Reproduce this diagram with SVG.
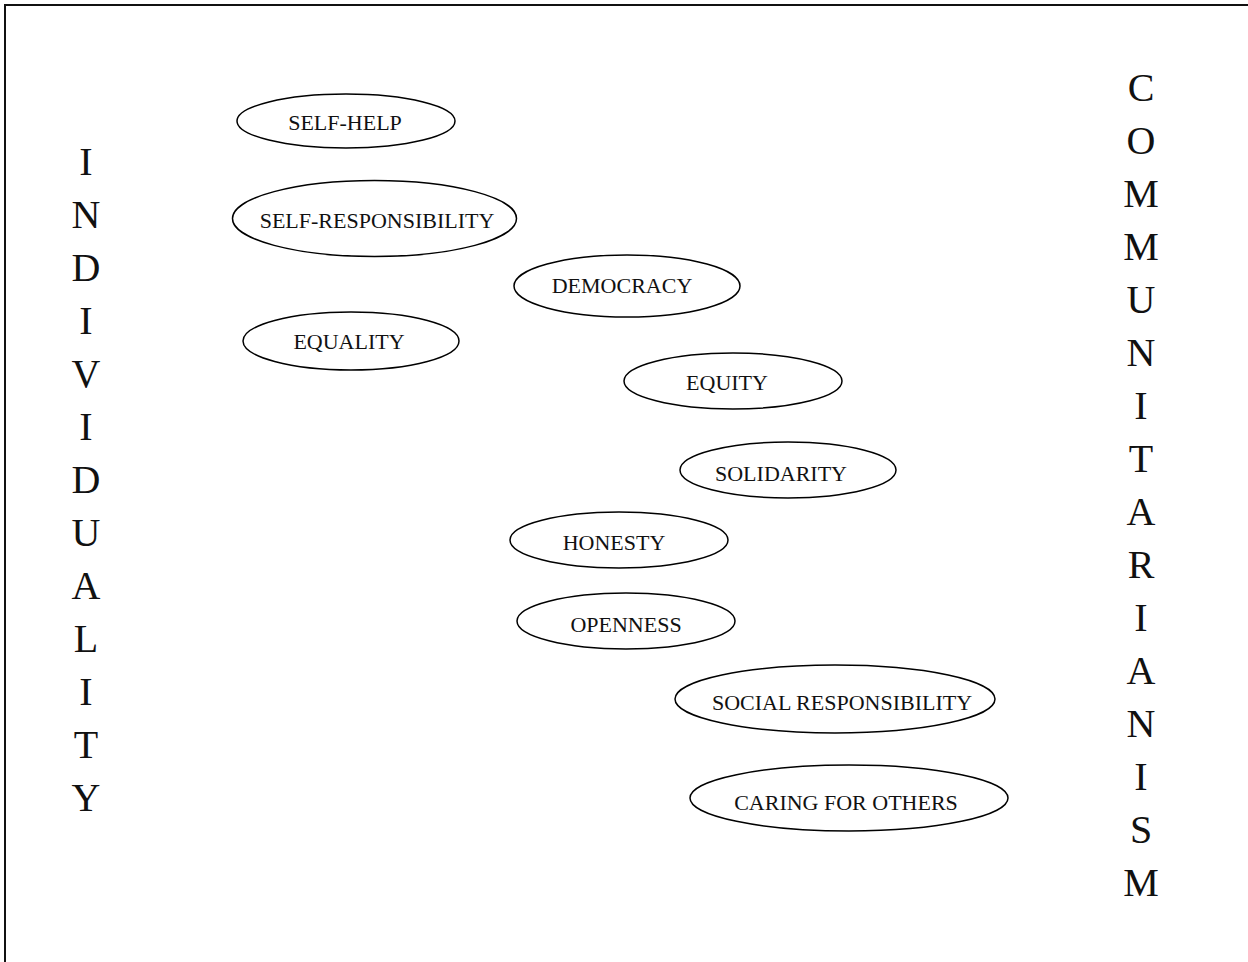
<svg xmlns="http://www.w3.org/2000/svg" width="1248" height="962" viewBox="0 0 1248 962">
<style>
.node ellipse{fill:none;stroke:#000;stroke-width:1.5}
.node text{font-family:"Liberation Serif","Times New Roman",serif;font-size:22px;text-anchor:middle;fill:#111}
.big{font-family:"Liberation Serif","Times New Roman",serif;font-size:40px;text-anchor:middle;fill:#111}
</style>
<rect x="0" y="0" width="1248" height="962" fill="#fff"/>
<rect x="5" y="5" width="1260" height="980" fill="none" stroke="#111" stroke-width="2"/>
<g id="connectors"></g>
<g id="individuality" class="big">
<text x="86" y="175">I</text>
<text x="86" y="228">N</text>
<text x="86" y="281">D</text>
<text x="86" y="334">I</text>
<text x="86" y="387">V</text>
<text x="86" y="440">I</text>
<text x="86" y="493">D</text>
<text x="86" y="546">U</text>
<text x="86" y="599">A</text>
<text x="86" y="652">L</text>
<text x="86" y="705">I</text>
<text x="86" y="758">T</text>
<text x="86" y="811">Y</text>
</g>
<g id="communitarianism" class="big">
<text x="1141" y="101">C</text>
<text x="1141" y="154">O</text>
<text x="1141" y="207">M</text>
<text x="1141" y="260">M</text>
<text x="1141" y="313">U</text>
<text x="1141" y="366">N</text>
<text x="1141" y="419">I</text>
<text x="1141" y="472">T</text>
<text x="1141" y="525">A</text>
<text x="1141" y="578">R</text>
<text x="1141" y="631">I</text>
<text x="1141" y="684">A</text>
<text x="1141" y="737">N</text>
<text x="1141" y="790">I</text>
<text x="1141" y="843">S</text>
<text x="1141" y="896">M</text>
</g>
<g id="self-help" class="node"><ellipse cx="346" cy="121" rx="109" ry="27"/><text x="345" y="130">SELF-HELP</text></g>
<g id="self-responsibility" class="node"><ellipse cx="374.5" cy="218.5" rx="142" ry="38"/><text x="377" y="228">SELF-RESPONSIBILITY</text></g>
<g id="democracy" class="node"><ellipse cx="627" cy="286" rx="113" ry="31"/><text x="622" y="293">DEMOCRACY</text></g>
<g id="equality" class="node"><ellipse cx="351" cy="341" rx="108" ry="29"/><text x="349" y="349">EQUALITY</text></g>
<g id="equity" class="node"><ellipse cx="733" cy="381" rx="109" ry="28"/><text x="727" y="390">EQUITY</text></g>
<g id="solidarity" class="node"><ellipse cx="788" cy="470" rx="108" ry="28"/><text x="781" y="481">SOLIDARITY</text></g>
<g id="honesty" class="node"><ellipse cx="619" cy="540" rx="109" ry="28"/><text x="614" y="550">HONESTY</text></g>
<g id="openness" class="node"><ellipse cx="626" cy="621" rx="109" ry="28"/><text x="626" y="632">OPENNESS</text></g>
<g id="social-responsibility" class="node"><ellipse cx="835" cy="699" rx="160" ry="34"/><text x="842" y="710">SOCIAL RESPONSIBILITY</text></g>
<g id="caring-for-others" class="node"><ellipse cx="849" cy="798" rx="159" ry="33"/><text x="846" y="810">CARING FOR OTHERS</text></g>
</svg>
